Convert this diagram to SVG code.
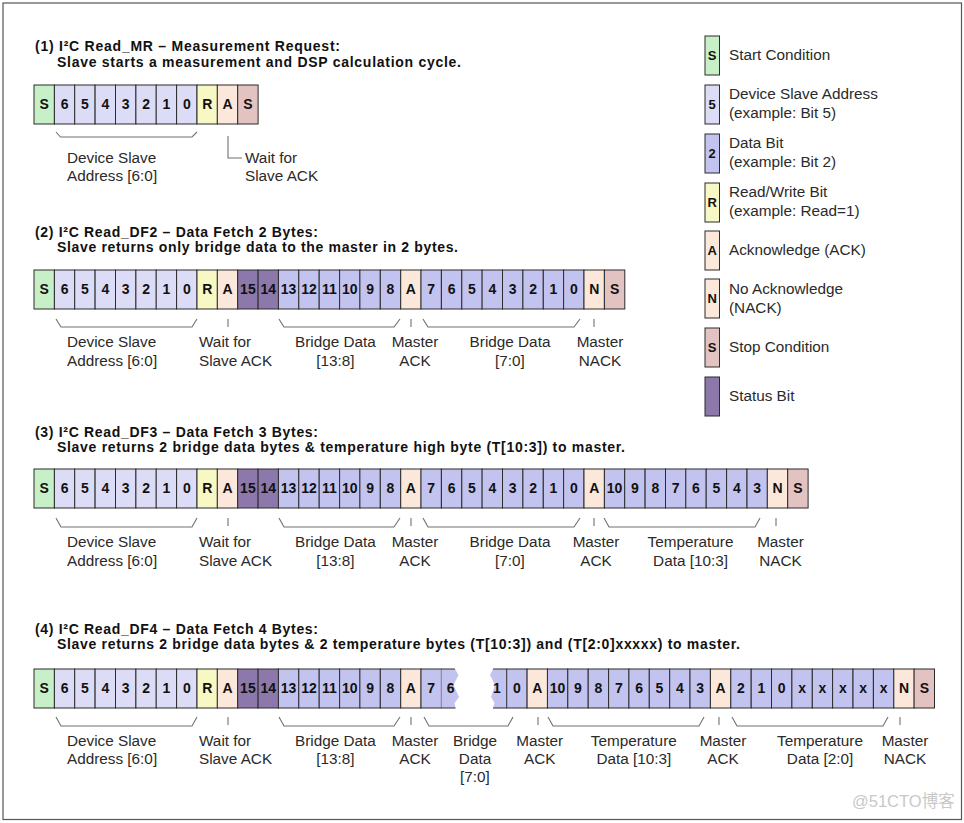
<svg xmlns="http://www.w3.org/2000/svg" width="964" height="823" viewBox="0 0 964 823">
<style>
.c{stroke:#2b2b2b;stroke-width:1}
.st{fill:#c8f0c8}.ad{fill:#dcdcf6}.db{fill:#c3c3f0}.rw{fill:#f8f8c4}.ak{fill:#fbe8da}.sp{fill:#e3c2c2}.su{fill:#8c78aa}
.t{font-family:"Liberation Sans",Arial,sans-serif;font-weight:bold;font-size:14px;text-anchor:middle;fill:#111}
.lb{font-family:"Liberation Sans",Arial,sans-serif;font-size:15.3px;fill:#2a2a2a}
.m{text-anchor:middle}
.ti{font-family:"Liberation Sans",Arial,sans-serif;font-weight:bold;font-size:14px;fill:#111}
.br{fill:none;stroke:#707070;stroke-width:1.1}
.lt{font-family:"Liberation Sans",Arial,sans-serif;font-weight:bold;font-size:13px;text-anchor:middle;fill:#111}
</style>
<rect x="0" y="0" width="964" height="823" fill="#fff"/>
<rect x="3" y="3" width="958.5" height="816.5" fill="none" stroke="#555" stroke-width="1.2"/>

<!-- Titles -->
<g id="titles">
<text class="ti" x="35" y="51" textLength="305" lengthAdjust="spacing">(1) I²C Read_MR – Measurement Request:</text>
<text class="ti" x="57" y="67" textLength="404" lengthAdjust="spacing">Slave starts a measurement and DSP calculation cycle.</text>
<text class="ti" x="35" y="237" textLength="283" lengthAdjust="spacing">(2) I²C Read_DF2 – Data Fetch 2 Bytes:</text>
<text class="ti" x="57" y="252" textLength="401" lengthAdjust="spacing">Slave returns only bridge data to the master in 2 bytes.</text>
<text class="ti" x="35" y="437" textLength="283" lengthAdjust="spacing">(3) I²C Read_DF3 – Data Fetch 3 Bytes:</text>
<text class="ti" x="57" y="452" textLength="568" lengthAdjust="spacing">Slave returns 2 bridge data bytes &amp; temperature high byte (T[10:3]) to master.</text>
<text class="ti" x="35" y="633.5" textLength="283" lengthAdjust="spacing">(4) I²C Read_DF4 – Data Fetch 4 Bytes:</text>
<text class="ti" x="57" y="648.5" textLength="683" lengthAdjust="spacing">Slave returns 2 bridge data bytes &amp; 2 temperature bytes (T[10:3]) and (T[2:0]xxxxx) to master.</text>
</g>

<!-- Row 1 -->
<g id="frame1">
<rect class="c st" x="34" y="85" width="20.4" height="39"/>
<rect class="c ad" x="54.4" y="85" width="20.4" height="39"/>
<rect class="c ad" x="74.7" y="85" width="20.4" height="39"/>
<rect class="c ad" x="95.1" y="85" width="20.4" height="39"/>
<rect class="c ad" x="115.5" y="85" width="20.4" height="39"/>
<rect class="c ad" x="135.9" y="85" width="20.4" height="39"/>
<rect class="c ad" x="156.2" y="85" width="20.4" height="39"/>
<rect class="c ad" x="176.6" y="85" width="20.4" height="39"/>
<rect class="c rw" x="197" y="85" width="20.4" height="39"/>
<rect class="c ak" x="217.3" y="85" width="20.4" height="39"/>
<rect class="c sp" x="237.7" y="85" width="20.4" height="39"/>
<text class="t" x="44.2" y="108.5">S</text><text class="t" x="64.6" y="108.5">6</text><text class="t" x="84.9" y="108.5">5</text><text class="t" x="105.3" y="108.5">4</text><text class="t" x="125.7" y="108.5">3</text><text class="t" x="146.1" y="108.5">2</text><text class="t" x="166.4" y="108.5">1</text><text class="t" x="186.8" y="108.5">0</text><text class="t" x="207.2" y="108.5">R</text><text class="t" x="227.5" y="108.5">A</text><text class="t" x="247.9" y="108.5">S</text>
</g>

<!-- Row 2 -->
<g id="frame2">
<rect class="c st" x="34" y="270" width="20.4" height="39"/>
<rect class="c ad" x="54.4" y="270" width="20.4" height="39"/>
<rect class="c ad" x="74.7" y="270" width="20.4" height="39"/>
<rect class="c ad" x="95.1" y="270" width="20.4" height="39"/>
<rect class="c ad" x="115.5" y="270" width="20.4" height="39"/>
<rect class="c ad" x="135.9" y="270" width="20.4" height="39"/>
<rect class="c ad" x="156.2" y="270" width="20.4" height="39"/>
<rect class="c ad" x="176.6" y="270" width="20.4" height="39"/>
<rect class="c rw" x="197" y="270" width="20.4" height="39"/>
<rect class="c ak" x="217.3" y="270" width="20.4" height="39"/>
<rect class="c su" x="237.7" y="270" width="20.4" height="39"/>
<rect class="c su" x="258.1" y="270" width="20.4" height="39"/>
<rect class="c db" x="278.4" y="270" width="20.4" height="39"/>
<rect class="c db" x="298.8" y="270" width="20.4" height="39"/>
<rect class="c db" x="319.2" y="270" width="20.4" height="39"/>
<rect class="c db" x="339.6" y="270" width="20.4" height="39"/>
<rect class="c db" x="359.9" y="270" width="20.4" height="39"/>
<rect class="c db" x="380.3" y="270" width="20.4" height="39"/>
<rect class="c ak" x="400.7" y="270" width="20.4" height="39"/>
<rect class="c db" x="421" y="270" width="20.4" height="39"/>
<rect class="c db" x="441.4" y="270" width="20.4" height="39"/>
<rect class="c db" x="461.8" y="270" width="20.4" height="39"/>
<rect class="c db" x="482.1" y="270" width="20.4" height="39"/>
<rect class="c db" x="502.5" y="270" width="20.4" height="39"/>
<rect class="c db" x="522.9" y="270" width="20.4" height="39"/>
<rect class="c db" x="543.3" y="270" width="20.4" height="39"/>
<rect class="c db" x="563.6" y="270" width="20.4" height="39"/>
<rect class="c ak" x="584" y="270" width="20.4" height="39"/>
<rect class="c sp" x="604.4" y="270" width="20.4" height="39"/>
<text class="t" x="44.2" y="293.5">S</text><text class="t" x="64.6" y="293.5">6</text><text class="t" x="84.9" y="293.5">5</text><text class="t" x="105.3" y="293.5">4</text><text class="t" x="125.7" y="293.5">3</text><text class="t" x="146.1" y="293.5">2</text><text class="t" x="166.4" y="293.5">1</text><text class="t" x="186.8" y="293.5">0</text><text class="t" x="207.2" y="293.5">R</text><text class="t" x="227.5" y="293.5">A</text>
<text class="t" x="247.9" y="293.5">15</text><text class="t" x="268.3" y="293.5">14</text><text class="t" x="288.6" y="293.5">13</text><text class="t" x="309" y="293.5">12</text><text class="t" x="329.4" y="293.5">11</text><text class="t" x="349.8" y="293.5">10</text><text class="t" x="370.1" y="293.5">9</text><text class="t" x="390.5" y="293.5">8</text><text class="t" x="410.9" y="293.5">A</text>
<text class="t" x="431.2" y="293.5">7</text><text class="t" x="451.6" y="293.5">6</text><text class="t" x="472" y="293.5">5</text><text class="t" x="492.3" y="293.5">4</text><text class="t" x="512.7" y="293.5">3</text><text class="t" x="533.1" y="293.5">2</text><text class="t" x="553.5" y="293.5">1</text><text class="t" x="573.8" y="293.5">0</text><text class="t" x="594.2" y="293.5">N</text><text class="t" x="614.6" y="293.5">S</text>
</g>

<!-- Row 3 -->
<g id="frame3">
<rect class="c st" x="34" y="469" width="20.4" height="39"/>
<rect class="c ad" x="54.4" y="469" width="20.4" height="39"/>
<rect class="c ad" x="74.7" y="469" width="20.4" height="39"/>
<rect class="c ad" x="95.1" y="469" width="20.4" height="39"/>
<rect class="c ad" x="115.5" y="469" width="20.4" height="39"/>
<rect class="c ad" x="135.9" y="469" width="20.4" height="39"/>
<rect class="c ad" x="156.2" y="469" width="20.4" height="39"/>
<rect class="c ad" x="176.6" y="469" width="20.4" height="39"/>
<rect class="c rw" x="197" y="469" width="20.4" height="39"/>
<rect class="c ak" x="217.3" y="469" width="20.4" height="39"/>
<rect class="c su" x="237.7" y="469" width="20.4" height="39"/>
<rect class="c su" x="258.1" y="469" width="20.4" height="39"/>
<rect class="c db" x="278.4" y="469" width="20.4" height="39"/>
<rect class="c db" x="298.8" y="469" width="20.4" height="39"/>
<rect class="c db" x="319.2" y="469" width="20.4" height="39"/>
<rect class="c db" x="339.6" y="469" width="20.4" height="39"/>
<rect class="c db" x="359.9" y="469" width="20.4" height="39"/>
<rect class="c db" x="380.3" y="469" width="20.4" height="39"/>
<rect class="c ak" x="400.7" y="469" width="20.4" height="39"/>
<rect class="c db" x="421" y="469" width="20.4" height="39"/>
<rect class="c db" x="441.4" y="469" width="20.4" height="39"/>
<rect class="c db" x="461.8" y="469" width="20.4" height="39"/>
<rect class="c db" x="482.1" y="469" width="20.4" height="39"/>
<rect class="c db" x="502.5" y="469" width="20.4" height="39"/>
<rect class="c db" x="522.9" y="469" width="20.4" height="39"/>
<rect class="c db" x="543.3" y="469" width="20.4" height="39"/>
<rect class="c db" x="563.6" y="469" width="20.4" height="39"/>
<rect class="c ak" x="584" y="469" width="20.4" height="39"/>
<rect class="c db" x="604.4" y="469" width="20.4" height="39"/>
<rect class="c db" x="624.7" y="469" width="20.4" height="39"/>
<rect class="c db" x="645.1" y="469" width="20.4" height="39"/>
<rect class="c db" x="665.5" y="469" width="20.4" height="39"/>
<rect class="c db" x="685.8" y="469" width="20.4" height="39"/>
<rect class="c db" x="706.2" y="469" width="20.4" height="39"/>
<rect class="c db" x="726.6" y="469" width="20.4" height="39"/>
<rect class="c db" x="747" y="469" width="20.4" height="39"/>
<rect class="c ak" x="767.3" y="469" width="20.4" height="39"/>
<rect class="c sp" x="787.7" y="469" width="20.4" height="39"/>
<text class="t" x="44.2" y="492.5">S</text><text class="t" x="64.6" y="492.5">6</text><text class="t" x="84.9" y="492.5">5</text><text class="t" x="105.3" y="492.5">4</text><text class="t" x="125.7" y="492.5">3</text><text class="t" x="146.1" y="492.5">2</text><text class="t" x="166.4" y="492.5">1</text><text class="t" x="186.8" y="492.5">0</text><text class="t" x="207.2" y="492.5">R</text><text class="t" x="227.5" y="492.5">A</text>
<text class="t" x="247.9" y="492.5">15</text><text class="t" x="268.3" y="492.5">14</text><text class="t" x="288.6" y="492.5">13</text><text class="t" x="309" y="492.5">12</text><text class="t" x="329.4" y="492.5">11</text><text class="t" x="349.8" y="492.5">10</text><text class="t" x="370.1" y="492.5">9</text><text class="t" x="390.5" y="492.5">8</text><text class="t" x="410.9" y="492.5">A</text>
<text class="t" x="431.2" y="492.5">7</text><text class="t" x="451.6" y="492.5">6</text><text class="t" x="472" y="492.5">5</text><text class="t" x="492.3" y="492.5">4</text><text class="t" x="512.7" y="492.5">3</text><text class="t" x="533.1" y="492.5">2</text><text class="t" x="553.5" y="492.5">1</text><text class="t" x="573.8" y="492.5">0</text><text class="t" x="594.2" y="492.5">A</text>
<text class="t" x="614.6" y="492.5">10</text><text class="t" x="634.9" y="492.5">9</text><text class="t" x="655.3" y="492.5">8</text><text class="t" x="675.7" y="492.5">7</text><text class="t" x="696" y="492.5">6</text><text class="t" x="716.4" y="492.5">5</text><text class="t" x="736.8" y="492.5">4</text><text class="t" x="757.2" y="492.5">3</text><text class="t" x="777.5" y="492.5">N</text><text class="t" x="797.9" y="492.5">S</text>
</g>

<!-- Row 4 -->
<g id="frame4">
<rect class="c st" x="34" y="669" width="20.4" height="39"/>
<rect class="c ad" x="54.4" y="669" width="20.4" height="39"/>
<rect class="c ad" x="74.7" y="669" width="20.4" height="39"/>
<rect class="c ad" x="95.1" y="669" width="20.4" height="39"/>
<rect class="c ad" x="115.5" y="669" width="20.4" height="39"/>
<rect class="c ad" x="135.9" y="669" width="20.4" height="39"/>
<rect class="c ad" x="156.2" y="669" width="20.4" height="39"/>
<rect class="c ad" x="176.6" y="669" width="20.4" height="39"/>
<rect class="c rw" x="197" y="669" width="20.4" height="39"/>
<rect class="c ak" x="217.3" y="669" width="20.4" height="39"/>
<rect class="c su" x="237.7" y="669" width="20.4" height="39"/>
<rect class="c su" x="258.1" y="669" width="20.4" height="39"/>
<rect class="c db" x="278.4" y="669" width="20.4" height="39"/>
<rect class="c db" x="298.8" y="669" width="20.4" height="39"/>
<rect class="c db" x="319.2" y="669" width="20.4" height="39"/>
<rect class="c db" x="339.6" y="669" width="20.4" height="39"/>
<rect class="c db" x="359.9" y="669" width="20.4" height="39"/>
<rect class="c db" x="380.3" y="669" width="20.4" height="39"/>
<rect class="c ak" x="400.7" y="669" width="20.4" height="39"/>
<rect class="c db" x="421" y="669" width="20.4" height="39"/>
<path class="db" d="M441.4,669 H455 L458.5,675 L453.5,685 L459,697 L454.5,703 L455.5,708 H441.4 Z"/>
<path d="M441.4,669 H455 M441.4,708 H455.5" stroke="#2b2b2b" stroke-width="1" fill="none"/>
<path class="db" d="M506.7,669 H493 L490,675 L495,685 L491,697 L494.5,703 L493,708 H506.7 Z"/>
<path d="M493,669 H506.7 M493,708 H506.7" stroke="#2b2b2b" stroke-width="1" fill="none"/>
<rect class="c db" x="506.7" y="669" width="20.4" height="39"/>
<rect class="c ak" x="527.1" y="669" width="20.4" height="39"/>
<rect class="c db" x="547.4" y="669" width="20.4" height="39"/>
<rect class="c db" x="567.8" y="669" width="20.4" height="39"/>
<rect class="c db" x="588.2" y="669" width="20.4" height="39"/>
<rect class="c db" x="608.6" y="669" width="20.4" height="39"/>
<rect class="c db" x="628.9" y="669" width="20.4" height="39"/>
<rect class="c db" x="649.3" y="669" width="20.4" height="39"/>
<rect class="c db" x="669.7" y="669" width="20.4" height="39"/>
<rect class="c db" x="690" y="669" width="20.4" height="39"/>
<rect class="c ak" x="710.4" y="669" width="20.4" height="39"/>
<rect class="c db" x="730.8" y="669" width="20.4" height="39"/>
<rect class="c db" x="751.2" y="669" width="20.4" height="39"/>
<rect class="c db" x="771.5" y="669" width="20.4" height="39"/>
<rect class="c db" x="791.9" y="669" width="20.4" height="39"/>
<rect class="c db" x="812.3" y="669" width="20.4" height="39"/>
<rect class="c db" x="832.6" y="669" width="20.4" height="39"/>
<rect class="c db" x="853" y="669" width="20.4" height="39"/>
<rect class="c db" x="873.4" y="669" width="20.4" height="39"/>
<rect class="c ak" x="893.8" y="669" width="20.4" height="39"/>
<rect class="c sp" x="914.1" y="669" width="20.4" height="39"/>
<text class="t" x="44.2" y="692.5">S</text><text class="t" x="64.6" y="692.5">6</text><text class="t" x="84.9" y="692.5">5</text><text class="t" x="105.3" y="692.5">4</text><text class="t" x="125.7" y="692.5">3</text><text class="t" x="146.1" y="692.5">2</text><text class="t" x="166.4" y="692.5">1</text><text class="t" x="186.8" y="692.5">0</text><text class="t" x="207.2" y="692.5">R</text><text class="t" x="227.5" y="692.5">A</text>
<text class="t" x="247.9" y="692.5">15</text><text class="t" x="268.3" y="692.5">14</text><text class="t" x="288.6" y="692.5">13</text><text class="t" x="309" y="692.5">12</text><text class="t" x="329.4" y="692.5">11</text><text class="t" x="349.8" y="692.5">10</text><text class="t" x="370.1" y="692.5">9</text><text class="t" x="390.5" y="692.5">8</text><text class="t" x="410.9" y="692.5">A</text>
<text class="t" x="431.2" y="692.5">7</text><text class="t" x="450.6" y="692.5">6</text><text class="t" x="497" y="692.5">1</text><text class="t" x="516.9" y="692.5">0</text><text class="t" x="537.3" y="692.5">A</text>
<text class="t" x="557.6" y="692.5">10</text><text class="t" x="578" y="692.5">9</text><text class="t" x="598.4" y="692.5">8</text><text class="t" x="618.8" y="692.5">7</text><text class="t" x="639.1" y="692.5">6</text><text class="t" x="659.5" y="692.5">5</text><text class="t" x="679.9" y="692.5">4</text><text class="t" x="700.2" y="692.5">3</text><text class="t" x="720.6" y="692.5">A</text>
<text class="t" x="741" y="692.5">2</text><text class="t" x="761.4" y="692.5">1</text><text class="t" x="781.7" y="692.5">0</text><text class="t" x="802.1" y="692.5">x</text><text class="t" x="822.5" y="692.5">x</text><text class="t" x="842.8" y="692.5">x</text><text class="t" x="863.2" y="692.5">x</text><text class="t" x="883.6" y="692.5">x</text><text class="t" x="904" y="692.5">N</text><text class="t" x="924.3" y="692.5">S</text>
</g>

<!-- Connectors: brackets and ticks -->
<g id="connectors">
<path class="br" d="M56,132 L60.5,137 H192 L197,132"/>
<path class="br" d="M228,136 V158 H242"/>

<path class="br" d="M56,319 L61,327 H192 L197,319"/>
<path class="br" d="M228,319 V327"/>
<path class="br" d="M279,319 L284,327 H394 L400,319"/>
<path class="br" d="M411,319 V327"/>
<path class="br" d="M423,319 L428,327 H574 L580,319"/>
<path class="br" d="M594,319 V327"/>

<path class="br" d="M56,518 L61,527 H192 L197,518"/>
<path class="br" d="M228,518 V526"/>
<path class="br" d="M279,518 L284,527 H394 L400,518"/>
<path class="br" d="M411,518 V526"/>
<path class="br" d="M423,518 L428,527 H574 L580,518"/>
<path class="br" d="M594,518 V526"/>
<path class="br" d="M604,518 L609,527 H755 L760,518"/>
<path class="br" d="M776,518 V526"/>

<path class="br" d="M56,717 L61,726 H192 L197,717"/>
<path class="br" d="M228,717 V725"/>
<path class="br" d="M279,717 L284,726 H394 L400,717"/>
<path class="br" d="M411,717 V725"/>
<path class="br" d="M424,717 L429,726 H508 L513,717"/>
<path class="br" d="M538,717 V725"/>
<path class="br" d="M548,717 L553,726 H699 L704,717"/>
<path class="br" d="M719,717 V725"/>
<path class="br" d="M732,717 L737,726 H883 L888,717"/>
<path class="br" d="M900,717 V725"/>
</g>

<!-- Labels -->
<g id="labels1">
<text class="lb" x="67" y="162.5">Device Slave</text>
<text class="lb" x="67" y="181">Address [6:0]</text>
<text class="lb" x="245" y="162.5">Wait for</text>
<text class="lb" x="245" y="181">Slave ACK</text>
</g>
<g id="labels2">
<text class="lb" x="67" y="347">Device Slave</text>
<text class="lb" x="67" y="366">Address [6:0]</text>
<text class="lb" x="199" y="347">Wait for</text>
<text class="lb" x="199" y="366">Slave ACK</text>
<text class="lb m" x="335.4" y="347">Bridge Data</text>
<text class="lb m" x="335.4" y="366">[13:8]</text>
<text class="lb m" x="415" y="347">Master</text>
<text class="lb m" x="415" y="366">ACK</text>
<text class="lb m" x="510" y="347">Bridge Data</text>
<text class="lb m" x="510" y="366">[7:0]</text>
<text class="lb m" x="600" y="347">Master</text>
<text class="lb m" x="600" y="366">NACK</text>
</g>
<g id="labels3">
<text class="lb" x="67" y="546.5">Device Slave</text>
<text class="lb" x="67" y="565.5">Address [6:0]</text>
<text class="lb" x="199" y="546.5">Wait for</text>
<text class="lb" x="199" y="565.5">Slave ACK</text>
<text class="lb m" x="335.4" y="546.5">Bridge Data</text>
<text class="lb m" x="335.4" y="565.5">[13:8]</text>
<text class="lb m" x="415" y="546.5">Master</text>
<text class="lb m" x="415" y="565.5">ACK</text>
<text class="lb m" x="510" y="546.5">Bridge Data</text>
<text class="lb m" x="510" y="565.5">[7:0]</text>
<text class="lb m" x="596" y="546.5">Master</text>
<text class="lb m" x="596" y="565.5">ACK</text>
<text class="lb m" x="690.5" y="546.5">Temperature</text>
<text class="lb m" x="690.5" y="565.5">Data [10:3]</text>
<text class="lb m" x="780.5" y="546.5">Master</text>
<text class="lb m" x="780.5" y="565.5">NACK</text>
</g>
<g id="labels4">
<text class="lb" x="67" y="745.5">Device Slave</text>
<text class="lb" x="67" y="764">Address [6:0]</text>
<text class="lb" x="199" y="745.5">Wait for</text>
<text class="lb" x="199" y="764">Slave ACK</text>
<text class="lb m" x="335.4" y="745.5">Bridge Data</text>
<text class="lb m" x="335.4" y="764">[13:8]</text>
<text class="lb m" x="415" y="745.5">Master</text>
<text class="lb m" x="415" y="764">ACK</text>
<text class="lb m" x="475" y="745.5">Bridge</text>
<text class="lb m" x="475" y="764">Data</text>
<text class="lb m" x="475" y="782">[7:0]</text>
<text class="lb m" x="539.7" y="745.5">Master</text>
<text class="lb m" x="539.7" y="764">ACK</text>
<text class="lb m" x="633.8" y="745.5">Temperature</text>
<text class="lb m" x="633.8" y="764">Data [10:3]</text>
<text class="lb m" x="723" y="745.5">Master</text>
<text class="lb m" x="723" y="764">ACK</text>
<text class="lb m" x="820" y="745.5">Temperature</text>
<text class="lb m" x="820" y="764">Data [2:0]</text>
<text class="lb m" x="905" y="745.5">Master</text>
<text class="lb m" x="905" y="764">NACK</text>
</g>

<!-- Legend -->
<g id="legend-start">
<rect class="c st" x="705" y="36" width="14.5" height="39"/>
<text class="lt" x="712.2" y="60">S</text>
<text class="lb" x="729" y="60">Start Condition</text>
</g>
<g id="legend-address">
<rect class="c ad" x="705" y="85" width="14.5" height="39"/>
<text class="lt" x="712.2" y="109">5</text>
<text class="lb" x="729" y="99">Device Slave Address</text>
<text class="lb" x="729" y="118">(example: Bit 5)</text>
</g>
<g id="legend-data">
<rect class="c db" x="705" y="134" width="14.5" height="39"/>
<text class="lt" x="712.2" y="158">2</text>
<text class="lb" x="729" y="148">Data Bit</text>
<text class="lb" x="729" y="167">(example: Bit 2)</text>
</g>
<g id="legend-rw">
<rect class="c rw" x="705" y="183" width="14.5" height="39"/>
<text class="lt" x="712.2" y="207">R</text>
<text class="lb" x="729" y="197">Read/Write Bit</text>
<text class="lb" x="729" y="215.5">(example: Read=1)</text>
</g>
<g id="legend-ack">
<rect class="c ak" x="705" y="231" width="14.5" height="39"/>
<text class="lt" x="712.2" y="255">A</text>
<text class="lb" x="729" y="254.5">Acknowledge (ACK)</text>
</g>
<g id="legend-nack">
<rect class="c ak" x="705" y="279" width="14.5" height="39"/>
<text class="lt" x="712.2" y="303">N</text>
<text class="lb" x="729" y="293.5">No Acknowledge</text>
<text class="lb" x="729" y="312.5">(NACK)</text>
</g>
<g id="legend-stop">
<rect class="c sp" x="705" y="328" width="14.5" height="39"/>
<text class="lt" x="712.2" y="352">S</text>
<text class="lb" x="729" y="352">Stop Condition</text>
</g>
<g id="legend-status">
<rect class="c su" x="705" y="377" width="14.5" height="39"/>
<text class="lb" x="729" y="401">Status Bit</text>
</g>

<text x="852" y="806.5" font-family="Liberation Sans, Noto Sans CJK SC, sans-serif" font-size="16.5" fill="#c8c8c8">@51CTO博客</text>
</svg>
